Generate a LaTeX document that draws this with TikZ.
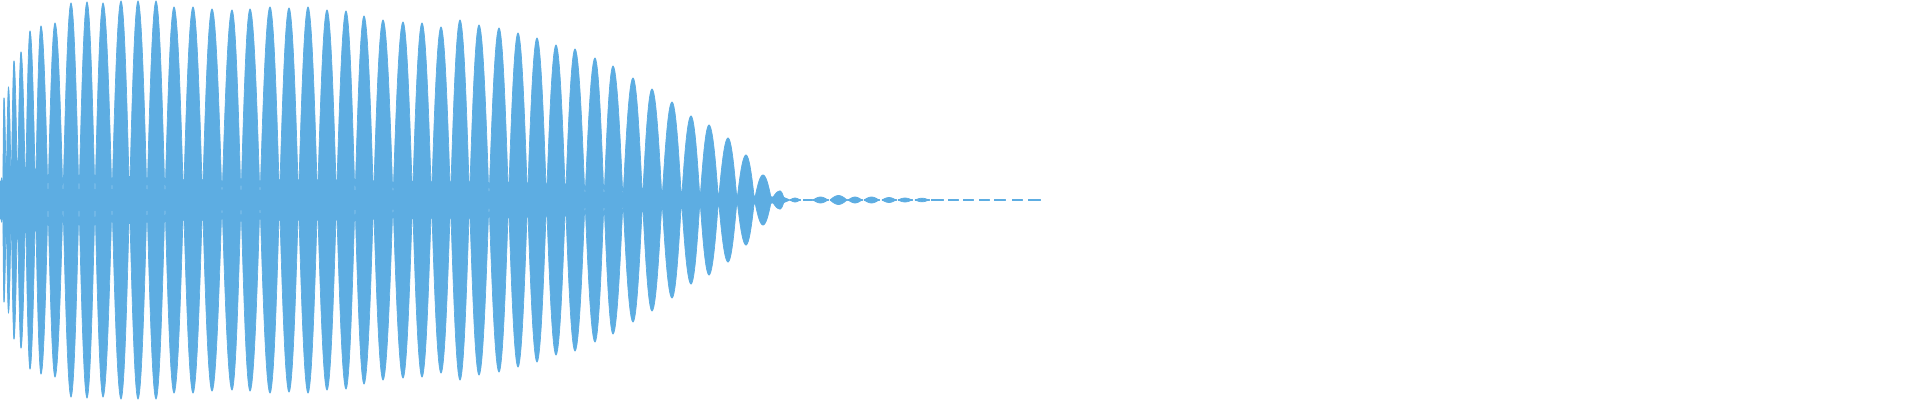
\documentclass[tikz,border=0pt]{standalone}
\definecolor{wavec}{RGB}{93,173,226}
\begin{document}
\begin{tikzpicture}[x=0.01cm,y=-0.01cm]
\tikzset{wave/.style={fill=wavec, draw=wavec, line width=0.2pt, line join=round}}
\useasboundingbox (0,0) rectangle (1920,400);
% centre band
\fill[wave] (0,181) -- (16,181) -- (17,189) -- (450,191) -- (700,193) -- (784,197.5) -- (790,200)
  -- (784,202.5) -- (700,207) -- (450,209) -- (17,211) -- (16,219) -- (0,219) -- cycle;
% lobes
\foreach \cx/\ca [remember=\cx as \px (initially 0), remember=\ca as \pa (initially 0)] in
 {1.5/22, 4/102, 8.5/113, 14/139, 21/148, 30/169, 41/174, 55/177, 71/197, 87/198, 103/197,
  121/199, 138/199, 156/199, 174/193, 193/193, 212/191, 232/190, 250/191, 270/193, 289/192,
  308/193, 327/190, 346/189, 364/184, 383/180, 403/178, 422/177, 441/173, 460/180, 479/175,
  499/172, 518/167, 537/162, 556/155, 575/151, 595/142, 613/134, 633/122, 652/111, 672/98,
  691/84, 709/75, 728/62, 746/45, 763/25, 780/9, 789/0}
{
  \pgfmathsetmacro\m{(\px+\cx)/2}
  \fill[wave] (\px,{200-\pa})
    -- plot[domain=0:90, samples=12, variable=\t] ({\px+(\m-\px)*\t/90}, {200-\pa*cos(\t)*(1.1-0.1*cos(\t))})
    -- plot[domain=90:0, samples=12, variable=\t] ({\cx-(\cx-\m)*\t/90}, {200-\ca*cos(\t)*(1.1-0.1*cos(\t))})
    -- plot[domain=0:90, samples=12, variable=\t] ({\cx-(\cx-\m)*\t/90}, {200+\ca*cos(\t)*(1.1-0.1*cos(\t))})
    -- plot[domain=90:0, samples=12, variable=\t] ({\px+(\m-\px)*\t/90}, {200+\pa*cos(\t)*(1.1-0.1*cos(\t))})
    -- cycle;
}
% small tail blobs
\foreach \l/\r/\h in {790/800/2, 813/828/3, 830/847/4.5, 848/862/3, 864/879/3, 882/896/2.5, 898/912/2, 915/929/1.8}
{
  \fill[wave] (\l,200)
    -- plot[domain=0:180, samples=15, variable=\t] ({\l+(\r-\l)*\t/180}, {200-\h*sin(\t)})
    -- plot[domain=180:0, samples=15, variable=\t] ({\l+(\r-\l)*\t/180}, {200+\h*sin(\t)})
    -- cycle;
  \fill[wave] (\l,199.3) rectangle (\r,200.7);
}
% trailing dashes
\foreach \l/\r in {803/812, 931/943, 948/958, 963/973, 979/989, 994/1005, 1012/1022, 1028/1040}
{
  \fill[wave] (\l,199.3) rectangle (\r,200.7);
}
\end{tikzpicture}
\end{document}
